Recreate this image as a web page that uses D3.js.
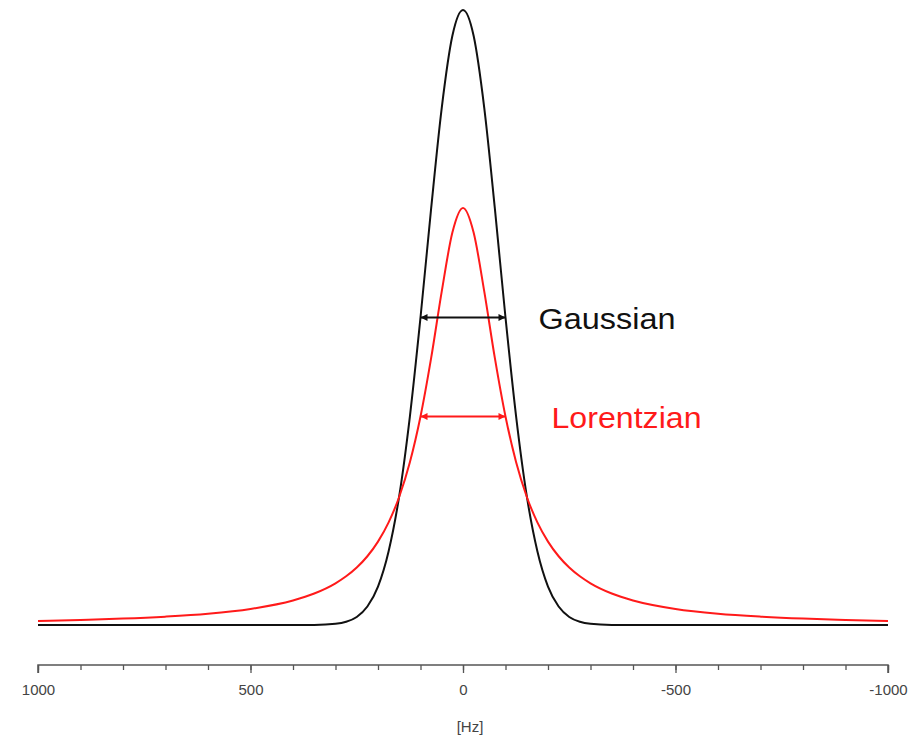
<!DOCTYPE html>
<html>
<head>
<meta charset="utf-8">
<script src="https://cdn.jsdelivr.net/npm/d3@7"></script>
<style>
  html, body { margin: 0; padding: 0; background: #fff; }
  svg { display: block; }
  text { font-family: "Liberation Sans", Arial, sans-serif; }
</style>
</head>
<body>
<script>
// Frequency offsets (Hz) at which both line shapes are sampled
const freqHz = [-1000, -900, -800, -700, -600, -500, -400, -350, -300, -275, -250, -225,
  -200, -175, -150, -125, -100, -75, -50, -25, 0, 25, 50, 75, 100, 125, 150, 175, 200,
  225, 250, 275, 300, 350, 400, 500, 600, 700, 800, 900, 1000];

// Gaussian line shape (relative intensity)
const gaussian = [0, 0, 0, 0, 0, 0, 0, 0.0002, 0.002, 0.0053, 0.0131, 0.030,
  0.0625, 0.120, 0.210, 0.339, 0.500, 0.677, 0.841, 0.958, 1.000, 0.958, 0.841, 0.677, 0.500,
  0.339, 0.210, 0.120, 0.0625, 0.030, 0.0131, 0.0053, 0.002, 0.0002, 0, 0, 0, 0, 0, 0, 0];

// Lorentzian line shape (same area and width as the Gaussian)
const lorentzian = [0.0067, 0.0083, 0.0104, 0.0136, 0.0183, 0.0261, 0.0399, 0.0512, 0.0678,
  0.0792, 0.0935, 0.1118, 0.1356, 0.1669, 0.2086, 0.2646, 0.339, 0.4339, 0.5424, 0.6381, 0.678,
  0.6381, 0.5424, 0.4339, 0.339, 0.2646, 0.2086, 0.1669, 0.1356, 0.1118, 0.0935, 0.0792, 0.0678,
  0.0512, 0.0399, 0.0261, 0.0183, 0.0136, 0.0104, 0.0083, 0.0067];

// Width markers: full width at half maximum of each line
const seriesNames = ["Gaussian", "Lorentzian"];
const seriesColors = ["#111", "#ff1a1a"];
const fwhmHz = [200, 200];
const halfMax = [0.5, 0.339];

// Axis ticks
const majorTicks = [1000, 500, 0, -500, -1000];
const minorTicks = d3.range(-1000, 1001, 100);
const axisTitle = "[Hz]";

const W = 912, H = 736;
const svg = d3.select("body").append("svg").attr("width", W).attr("height", H);

const x = d3.scaleLinear().domain([1000, -1000]).range([38, 888]);
const y = d3.scaleLinear().domain([0, 1]).range([625, 10]);

// Curves, ordered by screen position
const series = [gaussian, lorentzian];
const line = d3.line()
  .x(d => x(d.f))
  .y(d => y(d.v))
  .curve(d3.curveMonotoneX);

series.forEach((vals, i) => {
  const pts = freqHz.map((f, k) => ({ f, v: vals[k] })).sort((a, b) => x(a.f) - x(b.f));
  svg.append("path")
    .datum(pts)
    .attr("fill", "none")
    .attr("stroke", seriesColors[i])
    .attr("stroke-width", 2)
    .attr("stroke-linejoin", "round")
    .attr("d", line);
});

// Arrowhead markers
const defs = svg.append("defs");
seriesColors.forEach((c, i) => {
  defs.append("marker")
    .attr("id", "arrow" + i)
    .attr("viewBox", "0 0 10 10")
    .attr("refX", 10).attr("refY", 5)
    .attr("markerWidth", 10).attr("markerHeight", 7)
    .attr("markerUnits", "userSpaceOnUse")
    .attr("orient", "auto-start-reverse")
    .append("path")
    .attr("d", "M0,0L10,5L0,10Z")
    .attr("fill", c);
});

// FWHM arrows and labels
seriesNames.forEach((name, i) => {
  const yy = y(halfMax[i]);
  const x1 = x(fwhmHz[i] / 2), x2 = x(-fwhmHz[i] / 2);
  svg.append("line")
    .attr("x1", x1).attr("x2", x2)
    .attr("y1", yy).attr("y2", yy)
    .attr("stroke", seriesColors[i])
    .attr("stroke-width", 2)
    .attr("marker-start", `url(#arrow${i})`)
    .attr("marker-end", `url(#arrow${i})`);
  svg.append("text")
    .attr("x", x2 + (i === 0 ? 33 : 46))
    .attr("y", yy + 11)
    .attr("fill", seriesColors[i])
    .attr("font-size", 30)
    .attr("textLength", i === 0 ? 137 : 150)
    .attr("lengthAdjust", "spacingAndGlyphs")
    .text(name);
});

// Frequency axis
const axisY = 665;
const gMinor = svg.append("g")
  .attr("transform", `translate(0,${axisY})`)
  .call(d3.axisBottom(x).tickValues(minorTicks).tickSize(5).tickFormat(""));
gMinor.select(".domain").remove();
gMinor.selectAll(".tick line").attr("stroke", "#555").attr("stroke-width", 1.3);

const gMajor = svg.append("g")
  .attr("transform", `translate(0,${axisY})`)
  .call(d3.axisBottom(x).tickValues(majorTicks).tickSizeInner(8).tickSizeOuter(0)
    .tickPadding(11).tickFormat(d => String(d)));
gMajor.select(".domain").attr("stroke", "#555").attr("stroke-width", 1.5)
  .attr("d", `M${x(1000)},8V0H${x(-1000)}V8`);
gMajor.selectAll(".tick line").attr("stroke", "#555").attr("stroke-width", 1.3);
gMajor.selectAll(".tick text")
  .attr("font-size", 15)
  .attr("font-family", "'Liberation Sans', Arial, sans-serif")
  .attr("fill", "#444");

svg.append("text")
  .attr("x", x(0) + 7)
  .attr("y", 732)
  .attr("text-anchor", "middle")
  .attr("font-size", 15)
  .attr("fill", "#444")
  .text(axisTitle);
</script>
</body>
</html>
